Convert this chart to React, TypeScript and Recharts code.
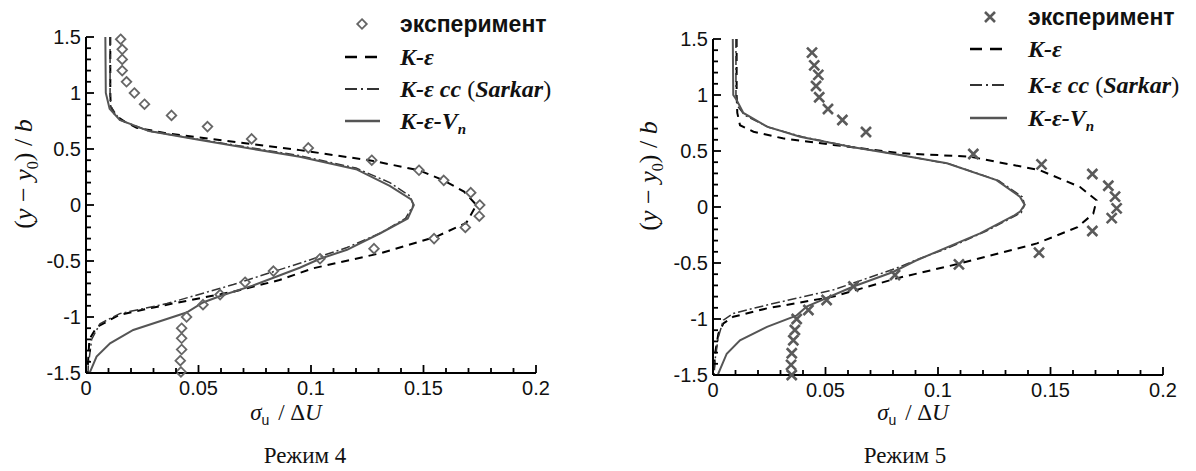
import React from "react";
import { ScatterChart, Scatter, XAxis, YAxis, Legend } from "recharts";

// tick values
const X_MAJOR = [0, 0.05, 0.1, 0.15, 0.2];
const X_MINOR = [0.01, 0.02, 0.03, 0.04, 0.06, 0.07, 0.08, 0.09, 0.11, 0.12, 0.13, 0.14, 0.16, 0.17, 0.18, 0.19];
const Y_MAJOR = [-1.5, -1, -0.5, 0, 0.5, 1, 1.5];
const Y_MINOR = [-1.4, -1.3, -1.2, -1.1, -0.9, -0.8, -0.7, -0.6, -0.4, -0.3, -0.2, -0.1, 0.1, 0.2, 0.3, 0.4, 0.6, 0.7, 0.8, 0.9, 1.1, 1.2, 1.3, 1.4];

// Режим 4: [sigma_u/dU, (y-y0)/b]
const exp4 = [
  [0.0154, 1.48], [0.0161, 1.39], [0.0161, 1.3], [0.0161, 1.2], [0.018, 1.1], [0.0215, 1.0],
  [0.026, 0.9], [0.038, 0.8], [0.054, 0.7], [0.0736, 0.59], [0.0988, 0.51], [0.127, 0.4],
  [0.148, 0.31], [0.159, 0.22], [0.171, 0.11], [0.175, 0.0], [0.1748, -0.1], [0.1686, -0.2],
  [0.1547, -0.3], [0.128, -0.39], [0.104, -0.48], [0.0833, -0.59], [0.0707, -0.69],
  [0.0596, -0.8], [0.052, -0.89], [0.0447, -1.0], [0.0425, -1.1], [0.0425, -1.19],
  [0.0425, -1.29], [0.0419, -1.39], [0.0422, -1.49],
];
const kEps4 = [
  [0.0108, 1.5], [0.0108, 1.0], [0.011, 0.88], [0.013, 0.8], [0.0175, 0.74], [0.0225, 0.69],
  [0.036, 0.64], [0.0655, 0.565], [0.095, 0.49], [0.127, 0.396], [0.148, 0.31], [0.159, 0.22],
  [0.168, 0.12], [0.1735, 0.0], [0.169, -0.16], [0.156, -0.28], [0.131, -0.43], [0.101, -0.565],
  [0.086, -0.67], [0.0655, -0.774], [0.036, -0.89], [0.015, -0.98], [0.0047, -1.09],
  [0.0015, -1.2], [0.0008, -1.44], [0.0007, -1.5],
];
const sarkar4 = [
  [0.0107, 1.5], [0.0107, 1.0], [0.011, 0.88], [0.015, 0.76], [0.028, 0.66], [0.0507, 0.585],
  [0.095, 0.44], [0.12, 0.33], [0.135, 0.2], [0.144, 0.08], [0.1455, 0.0], [0.142, -0.12],
  [0.131, -0.25], [0.116, -0.38], [0.095, -0.52], [0.0655, -0.71], [0.036, -0.88], [0.015, -0.97],
  [0.0062, -1.06], [0.0025, -1.2], [0.001, -1.44], [0.0009, -1.5],
];
const vn4 = [
  [0.0086, 1.5], [0.0088, 1.0], [0.0105, 0.86], [0.015, 0.76], [0.028, 0.66], [0.0507, 0.58],
  [0.095, 0.43], [0.12, 0.32], [0.135, 0.17], [0.1445, 0.05], [0.1457, 0.0], [0.143, -0.12],
  [0.131, -0.25], [0.116, -0.4], [0.104, -0.48], [0.095, -0.56], [0.074, -0.72], [0.06, -0.81],
  [0.052, -0.87], [0.0447, -0.96], [0.021, -1.116], [0.0107, -1.235], [0.0047, -1.354],
  [0.0018, -1.49], [0.0016, -1.5],
];

// Режим 5
const exp5 = [
  [0.044, 1.378], [0.045, 1.265], [0.0468, 1.18], [0.0458, 1.08], [0.0472, 0.98], [0.0511, 0.875],
  [0.0575, 0.777], [0.068, 0.67], [0.1157, 0.473], [0.146, 0.38], [0.1686, 0.295], [0.1757, 0.19],
  [0.1787, 0.092], [0.1794, -0.012], [0.1772, -0.1], [0.1686, -0.214], [0.1449, -0.408],
  [0.1093, -0.512], [0.0809, -0.607], [0.0624, -0.71], [0.0505, -0.83], [0.0424, -0.92],
  [0.0372, -1.0], [0.0364, -1.098], [0.0357, -1.19], [0.035, -1.306], [0.0347, -1.41], [0.035, -1.5],
];
const kEps5 = [
  [0.0105, 1.5], [0.0105, 1.0], [0.0108, 0.84], [0.012, 0.73], [0.018, 0.672], [0.031, 0.613],
  [0.0535, 0.554], [0.083, 0.48], [0.114, 0.45], [0.145, 0.33], [0.163, 0.18], [0.1705, 0.06],
  [0.169, -0.06], [0.162, -0.18], [0.144, -0.325], [0.11, -0.503], [0.0816, -0.637],
  [0.0535, -0.8], [0.024, -0.905], [0.009, -0.98], [0.0046, -1.04], [0.0024, -1.13],
  [0.0009, -1.31], [0.0003, -1.5],
];
const sarkar5 = [
  [0.0102, 1.5], [0.0102, 1.0], [0.011, 0.9], [0.014, 0.82], [0.025, 0.71], [0.04, 0.625],
  [0.062, 0.536], [0.084, 0.462], [0.105, 0.385], [0.127, 0.235], [0.1375, 0.09], [0.1385, 0.02],
  [0.137, -0.05], [0.121, -0.22], [0.104, -0.37], [0.092, -0.46], [0.081, -0.55], [0.0535, -0.74],
  [0.024, -0.875], [0.009, -0.95], [0.0046, -1.01], [0.0024, -1.16], [0.0009, -1.366], [0.0005, -1.5],
];
const vn5 = [
  [0.0088, 1.5], [0.009, 1.0], [0.0105, 0.955], [0.0135, 0.84], [0.024, 0.717], [0.0387, 0.628],
  [0.061, 0.538], [0.083, 0.464], [0.104, 0.39], [0.126, 0.24], [0.1364, 0.092], [0.1385, 0.02],
  [0.1365, -0.04], [0.1335, -0.08], [0.1187, -0.235], [0.104, -0.36], [0.09, -0.48], [0.08, -0.58],
  [0.0624, -0.71], [0.0416, -0.89], [0.037, -0.97], [0.024, -1.07], [0.012, -1.19],
  [0.0061, -1.31], [0.0024, -1.485], [0.0022, -1.5],
];

const captions = ["Режим 4", "Режим 5"];

const pts = (arr: number[][]) => arr.map(([x, y]) => ({ x, y }));
const isIn = (list: number[], v: number) => list.some((m) => Math.abs(m - v) < 1e-9);

const SANS = "'Liberation Sans', Arial, sans-serif";
const SERIF = "'Liberation Serif', 'Times New Roman', serif";

// ticks point into the plot, labels only on the major ones
const renderXTick = (props: any) => {
  const { x, y, payload } = props;
  const major = isIn(X_MAJOR, payload.value);
  return (
    <g>
      <path d={`M${x},${y}V${y - (major ? 8 : 5)}`} stroke="#000" strokeWidth={1.8} fill="none" />
      {major && (
        <text x={x} y={y + 22} textAnchor="middle" fontFamily={SANS} fontSize={20} fill="#111" stroke="none">
          {String(payload.value)}
        </text>
      )}
    </g>
  );
};

const renderYTick = (props: any) => {
  const { x, y, payload } = props;
  const major = isIn(Y_MAJOR, payload.value);
  return (
    <g>
      <path d={`M${x},${y}H${x + (major ? 8 : 5)}`} stroke="#000" strokeWidth={1.8} fill="none" />
      {major && (
        <text x={x - 5} y={y + 7} textAnchor="end" fontFamily={SANS} fontSize={20} fill="#111" stroke="none">
          {String(payload.value)}
        </text>
      )}
    </g>
  );
};

const Diamond = (props: any) => {
  const { cx, cy } = props;
  const r = 4.8;
  return (
    <path
      d={`M${cx},${cy - r}L${cx + r},${cy}L${cx},${cy + r}L${cx - r},${cy}Z`}
      fill="none"
      stroke="#666"
      strokeWidth={1.8}
    />
  );
};

const Cross = (props: any) => {
  const { cx, cy } = props;
  const r = 5;
  return (
    <path
      d={`M${cx - r},${cy - r}L${cx + r},${cy + r}M${cx - r},${cy + r}L${cx + r},${cy - r}`}
      stroke="#5a5a5a"
      strokeWidth={2.6}
    />
  );
};

const NoDot = () => <g />;

const LegendBox = ({ marker, mx, tx, lx0, lx1, ys }: any) => (
  <svg width={280} height={140} style={{ overflow: "visible" }}>
    {marker === "diamond" ? <Diamond cx={mx} cy={ys[0]} /> : <Cross cx={mx} cy={ys[0]} />}
    <text x={tx} y={ys[0] + 8} fontFamily={SANS} fontWeight="bold" fontSize={23} fill="#111">
      эксперимент
    </text>
    <line x1={lx0} x2={lx1} y1={ys[1]} y2={ys[1]} stroke="#000" strokeWidth={2.5} strokeDasharray="12 8" />
    <text x={tx} y={ys[1] + 8} fontFamily={SERIF} fontStyle="italic" fontWeight="bold" fontSize={24} fill="#111">
      K-ε
    </text>
    <line x1={lx0} x2={lx1} y1={ys[2]} y2={ys[2]} stroke="#333" strokeWidth={2} strokeDasharray="12 4 2 4" />
    <text x={tx} y={ys[2] + 8} fontFamily={SERIF} fontWeight="bold" fontSize={24} fill="#111">
      <tspan fontStyle="italic">K-ε cc </tspan>
      <tspan fontWeight="normal">(</tspan>
      <tspan fontStyle="italic">Sarkar</tspan>
      <tspan fontWeight="normal">)</tspan>
    </text>
    <line x1={lx0} x2={lx1} y1={ys[3]} y2={ys[3]} stroke="#555" strokeWidth={2.5} />
    <text x={tx} y={ys[3] + 8} fontFamily={SERIF} fontStyle="italic" fontWeight="bold" fontSize={24} fill="#111">
      K-ε-V
      <tspan fontSize={15} dy={5}>n</tspan>
    </text>
  </svg>
);

const Panel = ({ left, width, margin, exp, marker, kEps, sarkar, vn, legend }: any) => (
  <div style={{ position: "absolute", left, top: 0 }}>
    <ScatterChart width={width} height={471} margin={margin}>
      <XAxis
        type="number"
        dataKey="x"
        domain={[0, 0.2]}
        ticks={[...X_MAJOR, ...X_MINOR]}
        interval={0}
        tickSize={0}
        tickMargin={0}
        tickLine={false}
        tick={renderXTick}
        axisLine={{ stroke: "#000", strokeWidth: 2 }}
        height={30}
      />
      <YAxis
        type="number"
        dataKey="y"
        domain={[-1.5, 1.5]}
        ticks={[...Y_MAJOR, ...Y_MINOR]}
        interval={0}
        tickSize={0}
        tickMargin={0}
        tickLine={false}
        tick={renderYTick}
        axisLine={{ stroke: "#000", strokeWidth: 2 }}
        width={60}
      />
      <Scatter
        data={pts(kEps)}
        line={{ stroke: "#000", strokeWidth: 2, strokeDasharray: "8 6" }}
        lineType="joint"
        shape={<NoDot />}
        isAnimationActive={false}
      />
      <Scatter
        data={pts(sarkar)}
        line={{ stroke: "#333", strokeWidth: 1.5, strokeDasharray: "9 3 2 3" }}
        lineType="joint"
        shape={<NoDot />}
        isAnimationActive={false}
      />
      <Scatter
        data={pts(vn)}
        line={{ stroke: "#555", strokeWidth: 2 }}
        lineType="joint"
        shape={<NoDot />}
        isAnimationActive={false}
      />
      <Scatter
        data={pts(exp)}
        shape={marker === "diamond" ? <Diamond /> : <Cross />}
        isAnimationActive={false}
      />
      <Legend
        layout="vertical"
        align="center"
        verticalAlign="middle"
        wrapperStyle={{ left: legend.left, top: 0, width: 280, height: 140 }}
        content={() => <LegendBox marker={marker} {...legend} />}
      />
    </ScatterChart>
  </div>
);

const AxisTexts = ({ yLabelX, yLabelY, xLabelX, captionX, caption }: any) => (
  <>
    <text
      transform={`translate(${yLabelX},${yLabelY}) rotate(-90)`}
      textAnchor="middle"
      fontFamily={SERIF}
      fontSize={26}
      fill="#111"
    >
      <tspan>(</tspan>
      <tspan fontStyle="italic">y</tspan>
      <tspan> − </tspan>
      <tspan fontStyle="italic">y</tspan>
      <tspan fontSize={16} dy={6}>0</tspan>
      <tspan dy={-6}>)</tspan>
      <tspan> / </tspan>
      <tspan fontStyle="italic">b</tspan>
    </text>
    <text x={xLabelX} y={420} textAnchor="middle" fontFamily={SERIF} fontSize={23} fill="#111">
      <tspan fontStyle="italic">σ</tspan>
      <tspan fontFamily={SANS} fontSize={14} dy={5}>u</tspan>
      <tspan dy={-5} dx={3}> / Δ</tspan>
      <tspan fontStyle="italic">U</tspan>
    </text>
    <text x={captionX} y={463} textAnchor="middle" fontFamily={SERIF} fontSize={23} fill="#111">
      {caption}
    </text>
  </>
);

export default function App() {
  return (
    <div style={{ position: "absolute", left: 0, top: 0, width: 1196, height: 471, background: "#fff" }}>
      <Panel
        left={0}
        width={590}
        margin={{ top: 37, right: 54, bottom: 68, left: 26 }}
        exp={exp4}
        marker="diamond"
        kEps={kEps4}
        sarkar={sarkar4}
        vn={vn4}
        legend={{ left: 335, mx: 27, tx: 65, lx0: 10, lx1: 45, ys: [24, 57, 89, 121] }}
      />
      <Panel
        left={600}
        width={596}
        margin={{ top: 39, right: 33, bottom: 66, left: 53 }}
        exp={exp5}
        marker="cross"
        kEps={kEps5}
        sarkar={sarkar5}
        vn={vn5}
        legend={{ left: 355, mx: 35, tx: 73, lx0: 15, lx1: 52, ys: [17, 49, 85, 118] }}
      />
      <svg
        width={1196}
        height={471}
        style={{ position: "absolute", left: 0, top: 0, pointerEvents: "none" }}
      >
        <AxisTexts yLabelX={32} yLabelY={174} xLabelX={286} captionX={305} caption={captions[0]} />
        <AxisTexts yLabelX={657} yLabelY={176} xLabelX={913} captionX={905} caption={captions[1]} />
      </svg>
    </div>
  );
}
